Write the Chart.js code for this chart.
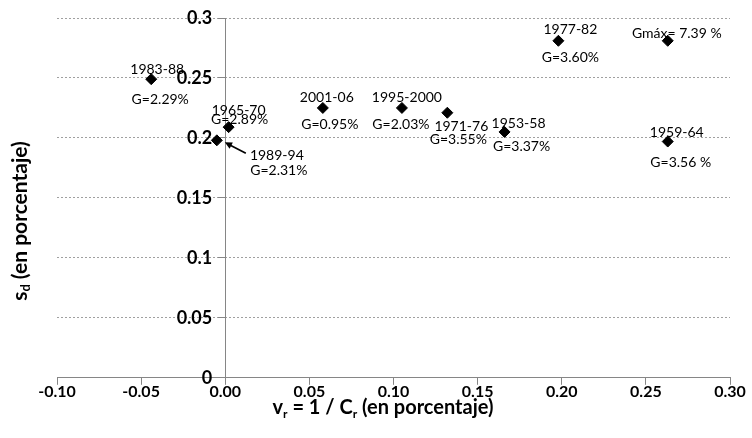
<!DOCTYPE html>
<html>
<head>
<meta charset="utf-8">
<script src="https://cdn.jsdelivr.net/npm/chart.js@4.4.1/dist/chart.umd.min.js"></script>
<style>
  html, body { margin: 0; padding: 0; background: #fff; }
  #wrap { width: 752px; height: 438px; }
</style>
</head>
<body>
<div id="wrap"><canvas id="chart" width="752" height="438"></canvas></div>
<script>
// periodos y valores
const periods = ['1983-88', '1965-70', '1989-94', '2001-06', '1995-2000', '1971-76', '1953-58', '1977-82', '', '1959-64'];
const growth  = ['G=2.29%', 'G=2.89%', 'G=2.31%', 'G=0.95%', 'G=2.03%', 'G=3.55%', 'G=3.37%', 'G=3.60%', 'Gmáx= 7.39 %', 'G=3.56 %'];
const vr = [-0.044, 0.002, -0.005, 0.058, 0.105, 0.132, 0.166, 0.198, 0.263, 0.263];
const sd = [0.249, 0.209, 0.198, 0.225, 0.225, 0.221, 0.205, 0.281, 0.281, 0.197];

const xTicks = [-0.10, -0.05, 0, 0.05, 0.10, 0.15, 0.20, 0.25, 0.30];
const xTickLabels = ['-0.10', '-0.05', '0.00', '0.05', '0.10', '0.15', '0.20', '0.25', '0.30'];
const yTicks = [0, 0.05, 0.1, 0.15, 0.2, 0.25, 0.3];
const yTickLabels = ['0', '0.05', '0.1', '0.15', '0.2', '0.25', '0.3'];

// desplazamiento (px) de cada etiqueta respecto a su punto: [periodo, G]
const labelOffsets = [
    [[6, -10], [9, 20]],
    [[10, -17], [11, -8]],
    [[60, 15], [62, 30]],
    [[4, -10], [7, 17]],
    [[5, -10], [-1, 17]],
    [[14, 14], [11, 27]],
    [[14, -8], [17, 15]],
    [[12, -11], [12, 17]],
    [[0, 0], [9, -7]],
    [[9, -9], [13, 21]]
];
const arrowIndex = 2; // flecha de 1989-94

const FONT = 'Lato, "Open Sans", sans-serif';

// texto con subindices
function drawRich(ctx, parts, x, y, size) {
    const big = 'bold ' + size + 'px ' + FONT;
    const small = 'bold ' + Math.round(size * 0.62) + 'px ' + FONT;
    let total = 0;
    parts.forEach(p => {
        ctx.font = p.sub ? small : big;
        total += ctx.measureText(p.t).width;
    });
    let cx = x - total / 2;
    ctx.textAlign = 'left';
    ctx.textBaseline = 'middle';
    parts.forEach(p => {
        ctx.font = p.sub ? small : big;
        ctx.fillText(p.t, cx, p.sub ? y + size * 0.3 : y);
        cx += ctx.measureText(p.t).width;
    });
}

const xTitle = [{ t: 'v' }, { t: 'r', sub: true }, { t: ' = 1 / C' }, { t: 'r', sub: true }, { t: ' (en porcentaje)' }];
const yTitle = [{ t: 's' }, { t: 'd', sub: true }, { t: ' (en porcentaje)' }];

const extras = {
    id: 'extras',
    // el eje y cruza en x=0: separar sus etiquetas de las marcas
    beforeDraw(chart) {
        const items = chart.scales.y.getLabelItems(chart.chartArea);
        if (!items._shifted) {
            items.forEach(it => { it.options.translation[0] -= 13; });
            items._shifted = true;
        }
    },
    beforeDatasetsDraw(chart) {
        const ctx = chart.ctx;
        const xs = chart.scales.x, ys = chart.scales.y;
        ctx.save();
        ctx.fillStyle = '#000';
        ctx.font = '14px ' + FONT;
        ctx.textAlign = 'center';
        ctx.textBaseline = 'middle';
        vr.forEach((v, i) => {
            const px = xs.getPixelForValue(v);
            const py = ys.getPixelForValue(sd[i]);
            const [o1, o2] = labelOffsets[i];
            if (periods[i]) ctx.fillText(periods[i], px + o1[0], py + o1[1]);
            ctx.fillText(growth[i], px + o2[0], py + o2[1]);
        });

        // flecha
        const ax = xs.getPixelForValue(vr[arrowIndex]);
        const ay = ys.getPixelForValue(sd[arrowIndex]);
        const tx = ax + 29, ty = ay + 13;
        const hx = ax + 8, hy = ay + 2;
        const ang = Math.atan2(hy - ty, hx - tx);
        ctx.strokeStyle = '#000';
        ctx.lineWidth = 1.6;
        ctx.beginPath();
        ctx.moveTo(tx, ty);
        ctx.lineTo(hx - Math.cos(ang) * 4, hy - Math.sin(ang) * 4);
        ctx.stroke();
        ctx.beginPath();
        ctx.moveTo(hx, hy);
        ctx.lineTo(hx - 8 * Math.cos(ang - 0.45), hy - 8 * Math.sin(ang - 0.45));
        ctx.lineTo(hx - 8 * Math.cos(ang + 0.45), hy - 8 * Math.sin(ang + 0.45));
        ctx.closePath();
        ctx.fill();

        // titulos de ejes
        drawRich(ctx, xTitle, 383, 408, 20);
        ctx.translate(20, 221);
        ctx.rotate(-Math.PI / 2);
        drawRich(ctx, yTitle, 0, 0, 21);
        ctx.restore();
    }
};

new Chart(document.getElementById('chart'), {
    type: 'scatter',
    data: {
        datasets: [{
            data: vr.map((v, i) => ({ x: v, y: sd[i] })),
            pointStyle: 'rectRot',
            pointRadius: 5.5,
            pointHoverRadius: 5.5,
            backgroundColor: '#000',
            borderColor: '#000',
            borderWidth: 1
        }]
    },
    options: {
        responsive: false,
        animation: false,
        layout: { padding: { left: 57, right: 22, top: 18, bottom: 40 } },
        plugins: { legend: { display: false }, tooltip: { enabled: false } },
        scales: {
            x: {
                type: 'linear',
                min: -0.1,
                max: 0.3,
                afterBuildTicks: s => { s.ticks = xTicks.map(v => ({ value: v })); },
                ticks: {
                    callback: (v, i) => xTickLabels[i],
                    color: '#000',
                    padding: -3,
                    maxRotation: 0,
                    font: { family: FONT, size: 16, weight: 'bold' }
                },
                grid: { drawOnChartArea: false, drawTicks: true, tickLength: 7, tickColor: '#868686' },
                border: { color: '#868686', width: 1 }
            },
            y: {
                type: 'linear',
                min: 0,
                max: 0.3,
                position: { x: 0 },
                afterBuildTicks: s => { s.ticks = yTicks.map(v => ({ value: v })); },
                ticks: {
                    callback: (v, i) => yTickLabels[i],
                    color: '#000',
                    padding: 0,
                    font: { family: FONT, size: 18, weight: 'bold' }
                },
                grid: {
                    color: c => (c.tick && c.tick.value === 0 ? 'rgba(0,0,0,0)' : '#a0a0a0'),
                    lineWidth: 1,
                    tickLength: 7,
                    tickColor: '#868686'
                },
                border: { color: '#868686', width: 1, dash: [2, 2] }
            }
        }
    },
    plugins: [extras]
});
</script>
</body>
</html>
